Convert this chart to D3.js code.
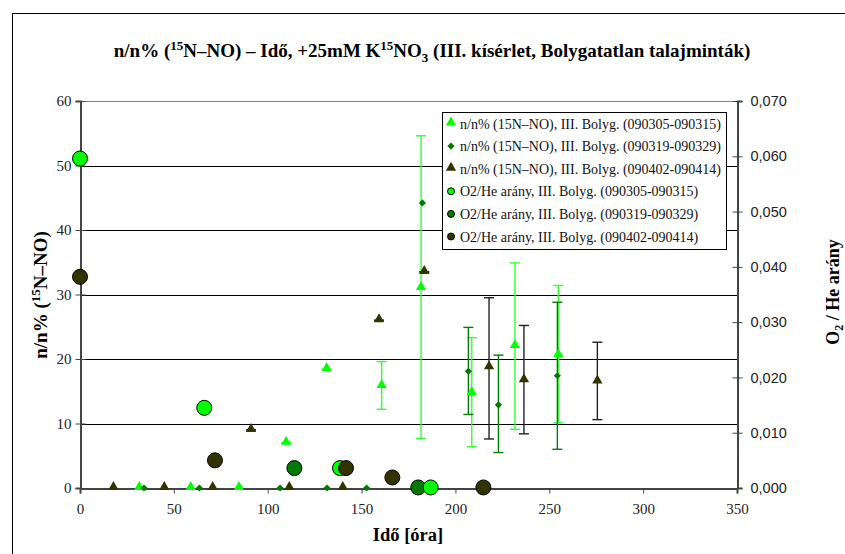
<!DOCTYPE html>
<html><head><meta charset="utf-8">
<script src="https://cdn.jsdelivr.net/npm/d3@7"></script>
<style>body{margin:0;background:#fff}svg{display:block}</style>
</head><body>
<svg id="c" width="845" height="554"></svg>
<script>
// ---- data ----
const xTicks = [0, 50, 100, 150, 200, 250, 300, 350];
const yTicks = [0, 10, 20, 30, 40, 50, 60];
const y2Ticks = [0, 0.01, 0.02, 0.03, 0.04, 0.05, 0.06, 0.07];

const s1Time = [31.6, 59, 84.7, 109.8, 131.4, 160.7, 181.7, 208.7, 231.7, 254.8];
const s1Val  = [0, 0, 0, 7.0, 18.4, 15.8, 31.0, 14.7, 22.0, 20.6];
const s1Hi   = [null, null, null, 7.0, 18.4, 19.6, 54.6, 23.3, 34.9, 31.4];
const s1Lo   = [null, null, null, 7.0, 18.4, 12.2, 7.7, 6.4, 9.1, 10.1];

const s2Time = [34.1, 63.6, 106.6, 131.6, 152.7, 182.4, 206.9, 222.9, 254.3];
const s2Val  = [0, 0, 0, 0, 0, 44.2, 18.1, 12.9, 17.4];
const s2Hi   = [null, null, null, null, null, null, 24.9, 20.6, 28.8];
const s2Lo   = [null, null, null, null, null, null, 11.4, 5.5, 6.0];

const s3Time = [17.8, 44.9, 70.7, 91.1, 111.5, 140, 159.3, 183.4, 217.9, 236.5, 275.6];
const s3Val  = [0, 0, 0, 9.0, 0, 0, 26.0, 33.5, 18.7, 16.7, 16.5];
const s3Hi   = [null, null, null, 9.0, null, null, 26.0, 33.5, 29.5, 25.2, 22.6];
const s3Lo   = [null, null, null, 9.0, null, null, 26.0, 33.5, 7.6, 8.4, 10.6];

const s4Time = [0, 66.2, 138.5, 186.8];
const s4Ratio = [0.0596, 0.0145, 0.0036, 0.0001];
const s5Time = [114.2, 180.2];
const s5Ratio = [0.0036, 0.0001];
const s6Time = [0, 71.9, 141.7, 166.4, 214.9];
const s6Ratio = [0.0382, 0.0050, 0.0036, 0.0019, 0.0001];

const legendLabels = [
  "n/n% (15N\u2013NO), III. Bolyg. (090305-090315)",
  "n/n% (15N\u2013NO), III. Bolyg. (090319-090329)",
  "n/n% (15N\u2013NO), III. Bolyg. (090402-090414)",
  "O2/He ar\u00e1ny, III. Bolyg. (090305-090315)",
  "O2/He ar\u00e1ny, III. Bolyg. (090319-090329)",
  "O2/He ar\u00e1ny, III. Bolyg. (090402-090414)"
];

// ---- styles ----
const cLight = "#00ff00", cGreen = "#007a00", cOlive = "#333300";
const serif = "'Liberation Serif','Times New Roman',serif";
const sans = "'Liberation Sans',Arial,sans-serif";

const svg = d3.select("#c");
svg.append("rect").attr("x", 12.5).attr("y", 13.5).attr("width", 900).attr("height", 600)
  .attr("fill", "#fff").attr("stroke", "#000").attr("stroke-width", 1);

const L = 80, R = 737, T = 101, B = 488;
const x = d3.scaleLinear().domain([0, 350]).range([L, R]);
const y = d3.scaleLinear().domain([0, 60]).range([B, T]);
const y2 = d3.scaleLinear().domain([0, 0.07]).range([B, T]);

// gridlines
svg.append("g").selectAll("line").data(yTicks.filter(d => d > 0 && d < 60)).join("line")
  .attr("x1", L).attr("x2", R).attr("y1", d => Math.round(y(d)) + 0.5).attr("y2", d => Math.round(y(d)) + 0.5)
  .attr("stroke", "#000").attr("stroke-width", 1);
svg.append("line").attr("x1", L).attr("x2", R).attr("y1", T + 0.5).attr("y2", T + 0.5)
  .attr("stroke", "#808080").attr("stroke-width", 1);

// axes
const gx = svg.append("g").attr("transform", `translate(0,${B + 0.5})`)
  .call(d3.axisBottom(x).tickValues(xTicks).tickSize(5).tickPadding(10).tickFormat(d3.format("d")));
const gy = svg.append("g").attr("transform", `translate(${L + 0.5},0)`)
  .call(d3.axisLeft(y).tickValues(yTicks).tickSize(5).tickPadding(4));
const gy2 = svg.append("g").attr("transform", `translate(${R + 0.5},0)`)
  .call(d3.axisRight(y2).tickValues(y2Ticks).tickSize(5).tickPadding(8)
    .tickFormat(d => d3.format(".3f")(d).replace(".", ",")));
[gx, gy, gy2].forEach(g => {
  g.select(".domain").attr("stroke", "#444").attr("stroke-width", 2);
  g.selectAll(".tick line").attr("stroke", "#444");
});
gx.selectAll("text").attr("font-family", serif).attr("font-size", 15).attr("fill", "#222");
gy.selectAll("text").attr("font-family", serif).attr("font-size", 15).attr("fill", "#222");
gy2.selectAll("text").attr("font-family", sans).attr("font-size", 14.5).attr("fill", "#222");
gy.selectAll(".tick line").attr("x1", 5).attr("x2", -5);
gy2.selectAll(".tick line").attr("x1", -5).attr("x2", 5);

// titles
const title = svg.append("text").attr("x", 432).attr("y", 57).attr("text-anchor", "middle")
  .attr("font-family", serif).attr("font-weight", "bold").attr("font-size", 19);
title.append("tspan").text("n/n% (");
title.append("tspan").attr("dy", -7).attr("font-size", 13).text("15");
title.append("tspan").attr("dy", 7).text("N\u2013NO) \u2013 Id\u0151, +25mM K");
title.append("tspan").attr("dy", -7).attr("font-size", 13).text("15");
title.append("tspan").attr("dy", 7).text("NO");
title.append("tspan").attr("dy", 5).attr("font-size", 13).text("3");
title.append("tspan").attr("dy", -5).text(" (III. k\u00eds\u00e9rlet, Bolygatatlan talajmint\u00e1k)");

const yt = svg.append("text").attr("transform", "translate(47,295) rotate(-90)").attr("text-anchor", "middle")
  .attr("font-family", serif).attr("font-weight", "bold").attr("font-size", 19);
yt.append("tspan").text("n/n% (");
yt.append("tspan").attr("dy", -7).attr("font-size", 13).text("15");
yt.append("tspan").attr("dy", 7).text("N\u2013NO)");

const y2t = svg.append("text").attr("transform", "translate(839,292) rotate(-90)").attr("text-anchor", "middle")
  .attr("font-family", serif).attr("font-weight", "bold").attr("font-size", 18);
y2t.append("tspan").text("O");
y2t.append("tspan").attr("dy", 4).attr("font-size", 12).text("2");
y2t.append("tspan").attr("dy", -4).text(" / He ar\u00e1ny");

svg.append("text").attr("x", 408).attr("y", 541).attr("text-anchor", "middle")
  .attr("font-family", serif).attr("font-weight", "bold").attr("font-size", 18.5).text("Id\u0151 [\u00f3ra]");

// series helpers
const tri = d3.symbol().type(d3.symbolTriangle).size(46);
const dia = d3.symbol().type(d3.symbolSquare).size(26);

function errBars(times, hi, lo, color) {
  const g = svg.append("g").attr("stroke", color).attr("stroke-width", 1.4);
  times.forEach((t, i) => {
    if (hi[i] == null) return;
    const cx = x(t);
    g.append("line").attr("x1", cx).attr("x2", cx).attr("y1", y(hi[i])).attr("y2", y(lo[i]));
    g.append("line").attr("x1", cx - 5).attr("x2", cx + 5).attr("y1", y(hi[i])).attr("y2", y(hi[i]));
    g.append("line").attr("x1", cx - 5).attr("x2", cx + 5).attr("y1", y(lo[i])).attr("y2", y(lo[i]));
  });
}
function markers(times, vals, sym, color) {
  svg.append("g").selectAll("path").data(times).join("path")
    .attr("transform", (t, i) => `translate(${x(t)},${y(vals[i]) - (sym === tri ? 1 : 0)})` + (sym === dia ? " rotate(45)" : ""))
    .attr("d", sym).attr("fill", color);
}
function circles(times, ratios, color) {
  svg.append("g").selectAll("circle").data(times).join("circle")
    .attr("cx", t => x(t)).attr("cy", (t, i) => y2(ratios[i])).attr("r", 7.5)
    .attr("fill", color).attr("stroke", "#000").attr("stroke-width", 1);
}

errBars(s1Time, s1Hi, s1Lo, "#33ff33");
errBars(s2Time, s2Hi, s2Lo, "#008000");
errBars(s3Time, s3Hi, s3Lo, "#222");
markers(s1Time, s1Val, tri, cLight);
markers(s2Time, s2Val, dia, cGreen);
markers(s3Time, s3Val, tri, cOlive);
circles(s5Time, s5Ratio, cGreen);
circles(s4Time, s4Ratio, cLight);
circles(s6Time, s6Ratio, cOlive);

// legend
const lg = svg.append("g");
lg.append("rect").attr("x", 442.5).attr("y", 112.5).attr("width", 284).attr("height", 137)
  .attr("fill", "#fff").attr("stroke", "#000").attr("stroke-width", 1);
const legendMarks = [
  {s: tri, c: cLight}, {s: dia, c: cGreen}, {s: tri, c: cOlive},
  {c: cLight}, {c: cGreen}, {c: cOlive}
];
legendLabels.forEach((lab, i) => {
  const ly = 123.5 + i * 22.6;
  const m = legendMarks[i];
  if (m.s) lg.append("path").attr("transform", `translate(451,${ly - (m.s === tri ? 1 : 0)})` + (m.s === dia ? " rotate(45)" : "")).attr("d", m.s).attr("fill", m.c);
  else lg.append("circle").attr("cx", 451).attr("cy", ly).attr("r", 3.5).attr("fill", m.c).attr("stroke", "#000").attr("stroke-width", 1);
  lg.append("text").attr("x", 460).attr("y", ly + 5).attr("font-family", serif).attr("font-size", 14)
    .attr("fill", "#111").text(lab);
});
</script>
</body></html>
